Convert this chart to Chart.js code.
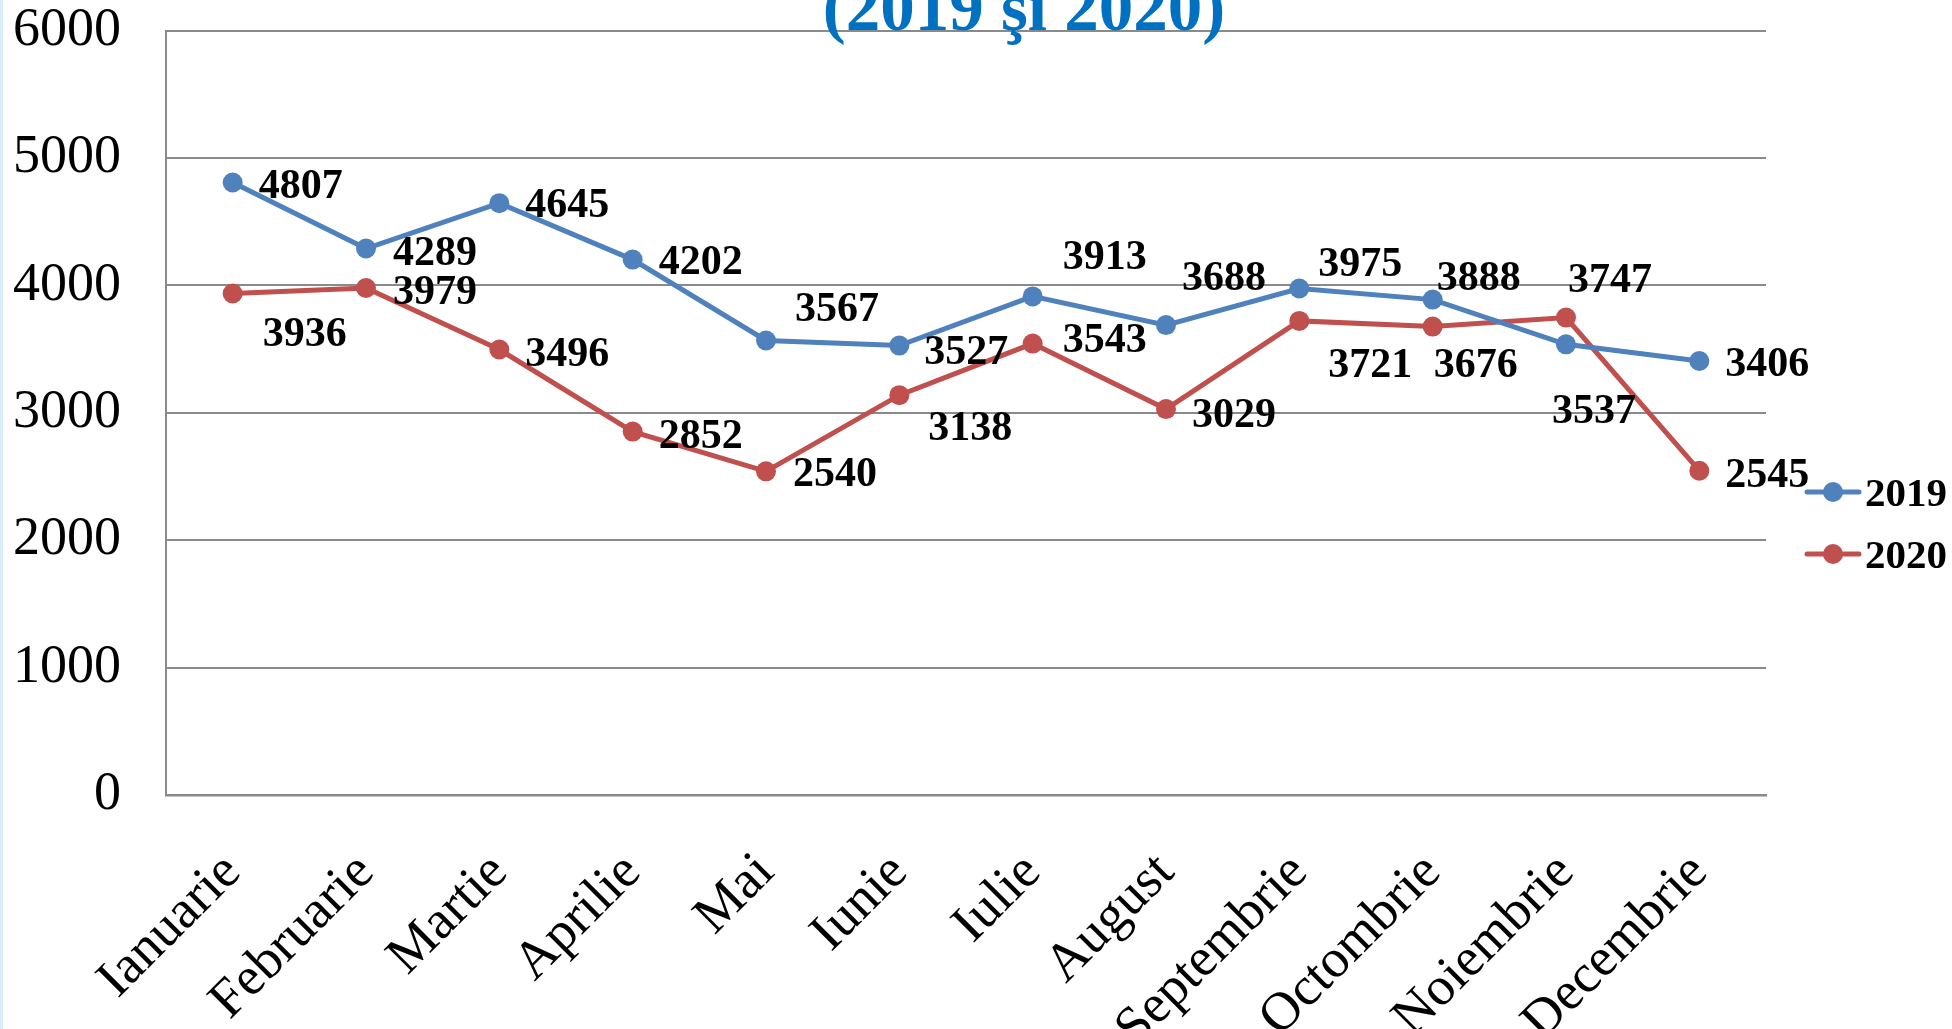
<!DOCTYPE html>
<html>
<head>
<meta charset="utf-8">
<script src="https://cdn.jsdelivr.net/npm/chart.js@4.4.1/dist/chart.umd.min.js"></script>
<style>
  html, body { margin: 0; padding: 0; background: #ffffff; overflow: hidden; }
  #wrap { position: relative; width: 1952px; height: 1029px; }
  #edge { position: absolute; left: 0; top: 0; width: 3px; height: 1029px; background: #dcecfb; }
  canvas { position: absolute; left: 0; top: 0; }
</style>
</head>
<body>
<div id="wrap">
  <canvas id="c" width="1952" height="1029"></canvas>
  <div id="edge"></div>
</div>
<script>
// ---- data ----
const titleText = '(2019 şi 2020)';
const categories = ['Ianuarie','Februarie','Martie','Aprilie','Mai','Iunie','Iulie','August','Septembrie','Octombrie','Noiembrie','Decembrie'];
const seriesNames = ['2019', '2020'];
const values2019 = [4807, 4289, 4645, 4202, 3567, 3527, 3913, 3688, 3975, 3888, 3537, 3406];
const values2020 = [3936, 3979, 3496, 2852, 2540, 3138, 3543, 3029, 3721, 3676, 3747, 2545];
const yMin = 0, yMax = 6000, yStep = 1000;

// label placement (offset of label's left edge / vertical centre from the point), style only
const labelOffsets2019 = [[26,1],[27,2],[26,0],[26,0],[29,-34],[25,4],[30,-41],[16,-49],[19,-27],[4,-24],[-14,65],[26,1]];
const labelOffsets2020 = [[30,39],[27,2],[26,2],[26,2],[27,1],[29,31],[30,-6],[26,4],[29,42],[1,36],[2,-40],[26,2]];

const colors = ['#4F81BD', '#C0504D'];
const serif = "'Liberation Serif', 'Times New Roman', serif";

const titlePlugin = {
  id: 'cutTitle',
  afterDraw(chart) {
    const ctx = chart.ctx;
    ctx.save();
    ctx.font = 'bold 69px ' + serif;
    ctx.fillStyle = '#0070C0';
    ctx.textAlign = 'center';
    ctx.textBaseline = 'alphabetic';
    ctx.fillText(titleText, 1024, 30);
    ctx.restore();
  }
};

const valueLabelPlugin = {
  id: 'valueLabels',
  afterDatasetsDraw(chart) {
    const ctx = chart.ctx;
    const offsets = [labelOffsets2019, labelOffsets2020];
    ctx.save();
    ctx.font = 'bold 42px ' + serif;
    ctx.fillStyle = '#000000';
    ctx.textAlign = 'left';
    ctx.textBaseline = 'alphabetic';
    chart.data.datasets.forEach((ds, di) => {
      const meta = chart.getDatasetMeta(di);
      meta.data.forEach((pt, i) => {
        const off = offsets[di][i];
        ctx.fillText(String(ds.data[i]), pt.x + off[0], pt.y + off[1] + 14);
      });
    });
    ctx.restore();
  }
};

const legendPlugin = {
  id: 'sideLegend',
  afterDraw(chart) {
    const ctx = chart.ctx;
    const ys = [492, 554];
    ctx.save();
    chart.data.datasets.forEach((ds, di) => {
      const y = ys[di];
      ctx.strokeStyle = ds.borderColor;
      ctx.lineWidth = 5;
      ctx.lineCap = 'round';
      ctx.beginPath();
      ctx.moveTo(1807, y);
      ctx.lineTo(1859, y);
      ctx.stroke();
      ctx.fillStyle = ds.borderColor;
      ctx.beginPath();
      ctx.arc(1833, y, 10, 0, Math.PI * 2);
      ctx.fill();
      ctx.fillStyle = '#000000';
      ctx.font = 'bold 41px ' + serif;
      ctx.textAlign = 'left';
      ctx.textBaseline = 'alphabetic';
      ctx.fillText(ds.label, 1865, y + 13.5);
    });
    ctx.restore();
  }
};

new Chart(document.getElementById('c'), {
  type: 'line',
  data: {
    labels: categories,
    datasets: [
      { label: seriesNames[0], data: values2019, borderColor: colors[0], backgroundColor: colors[0],
        pointBackgroundColor: colors[0], pointBorderWidth: 0, pointRadius: 10, borderWidth: 5, tension: 0 },
      { label: seriesNames[1], data: values2020, borderColor: colors[1], backgroundColor: colors[1],
        pointBackgroundColor: colors[1], pointBorderWidth: 0, pointRadius: 10, borderWidth: 5, tension: 0 }
    ]
  },
  options: {
    responsive: false,
    animation: false,
    devicePixelRatio: 1,
    layout: { padding: { top: 30.5, right: 186, bottom: 0, left: 0 } },
    plugins: {
      legend: { display: false },
      title: { display: false },
      tooltip: { enabled: false }
    },
    scales: {
      x: {
        offset: true,
        grid: { display: false, drawTicks: false },
        border: { display: true, color: '#8a8a8a', width: 2.5 },
        ticks: {
          color: '#000000',
          font: { family: serif, size: 54 },
          maxRotation: 45, minRotation: 45,
          autoSkip: false,
          padding: 46
        },
        afterFit(scale) { scale.height = 234; scale.paddingLeft = 0; scale.paddingRight = 0; }
      },
      y: {
        min: yMin, max: yMax,
        grid: { color: '#8a8a8a', lineWidth: 2, drawTicks: false },
        border: { display: true, color: '#8a8a8a', width: 2 },
        ticks: {
          stepSize: yStep,
          color: '#000000',
          font: { family: serif, size: 54 },
          padding: 45,
          callback: (v) => String(v)
        },
        afterFit(scale) { scale.width = 166; scale.paddingTop = 0; scale.paddingBottom = 0; }
      }
    }
  },
  plugins: [valueLabelPlugin, titlePlugin, legendPlugin]
});
</script>
</body>
</html>
